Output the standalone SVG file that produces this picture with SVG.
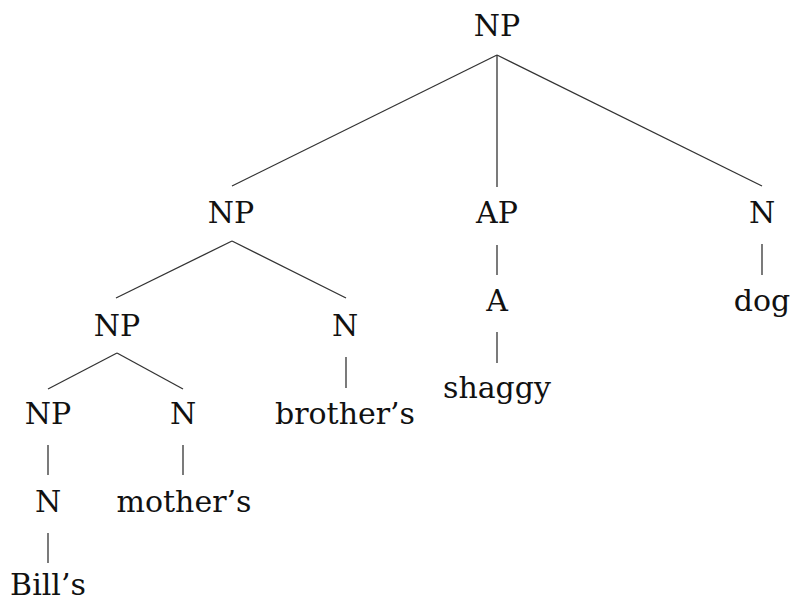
<svg xmlns="http://www.w3.org/2000/svg" width="793" height="604" viewBox="0 0 793 604">
<style>
text{font-size:30px;fill:#111;text-anchor:middle}
.e line{stroke:#333;stroke-width:1.3}
</style>
<rect width="793" height="604" fill="#fff"/>
<g class="e" id="connectors">
<line x1="497" y1="55" x2="232" y2="186"/>
<line x1="497" y1="55" x2="497" y2="187"/>
<line x1="497" y1="55" x2="762" y2="186"/>
<line x1="232" y1="241" x2="116" y2="298"/>
<line x1="232" y1="241" x2="346" y2="298"/>
<line x1="497" y1="245" x2="497" y2="275"/>
<line x1="762" y1="244" x2="762" y2="275"/>
<line x1="117" y1="353" x2="48" y2="389"/>
<line x1="117" y1="353" x2="183" y2="389"/>
<line x1="346" y1="357" x2="346" y2="388"/>
<line x1="497" y1="332" x2="497" y2="363"/>
<line x1="48" y1="445" x2="48" y2="475"/>
<line x1="183" y1="445" x2="183" y2="475"/>
<line x1="48" y1="533" x2="48" y2="563"/>
</g>
<g font-family="DejaVu Serif, serif">
<g id="n_root"><text x="497" y="36">NP</text></g>
<g id="n_np1"><text x="231" y="223">NP</text></g>
<g id="n_ap"><text x="497" y="223">AP</text></g>
<g id="n_n_dog"><text x="762" y="223">N</text></g>
<g id="n_dog"><text x="762" y="311">dog</text></g>
<g id="n_a"><text x="497" y="311">A</text></g>
<g id="n_shaggy"><text x="497" y="398">shaggy</text></g>
<g id="n_np2"><text x="117" y="336">NP</text></g>
<g id="n_n_bro"><text x="345" y="336">N</text></g>
<g id="n_bro"><text x="345" y="424">brother’s</text></g>
<g id="n_np3"><text x="48" y="424">NP</text></g>
<g id="n_n_mom"><text x="183" y="424">N</text></g>
<g id="n_mom"><text x="184" y="512">mother’s</text></g>
<g id="n_n_bill"><text x="48" y="512">N</text></g>
<g id="n_bill"><text x="48" y="595">Bill’s</text></g>
</g>
</svg>
